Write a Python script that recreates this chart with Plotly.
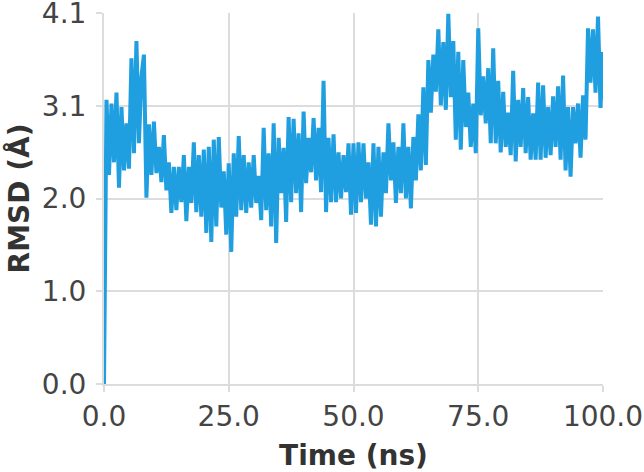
import plotly.graph_objects as go

# RMSD trace, one value every 0.5 ns from 0 to 100 ns
step_ns = 0.5
rmsd = [
    0.00, 3.14, 2.31, 3.10, 2.45, 3.22, 2.17, 3.06, 2.36, 2.88,
    2.38, 3.60, 2.55, 3.79, 2.66, 3.40, 3.64, 2.06, 2.87, 2.31,
    2.90, 2.33, 2.62, 2.23, 2.75, 2.14, 2.45, 1.89, 2.40, 1.92,
    2.40, 2.01, 2.53, 1.80, 2.40, 2.00, 2.67, 1.90, 2.53, 1.85,
    2.59, 1.67, 2.62, 1.57, 2.70, 1.74, 2.73, 1.95, 2.35, 1.65,
    2.44, 1.46, 2.55, 1.85, 2.74, 1.92, 2.53, 1.89, 2.45, 1.95,
    2.53, 2.00, 2.30, 1.81, 2.83, 1.92, 2.55, 1.74, 2.88, 1.56,
    2.72, 2.11, 2.61, 1.79, 2.95, 2.01, 2.93, 2.11, 2.77, 1.90,
    3.01, 2.22, 2.72, 2.34, 2.94, 2.25, 2.83, 2.12, 3.35, 1.90,
    2.72, 2.01, 2.76, 2.01, 2.56, 2.05, 2.53, 2.12, 2.66, 1.87,
    2.66, 1.89, 2.67, 2.01, 2.66, 2.05, 2.45, 1.76, 2.66, 1.74,
    2.62, 1.85, 2.56, 2.11, 2.88, 2.25, 2.67, 2.00, 2.62, 2.11,
    2.88, 2.05, 2.62, 1.94, 2.73, 2.25, 2.98, 2.36, 3.28, 2.42,
    3.58, 3.00, 3.64, 3.23, 3.92, 3.08, 3.78, 3.03, 4.09, 3.17,
    3.79, 2.70, 3.67, 2.59, 3.58, 2.84, 3.22, 2.62, 3.10, 2.55,
    3.93, 2.97, 3.40, 2.88, 3.49, 2.66, 3.71, 2.66, 3.35, 2.56,
    3.23, 2.62, 3.00, 2.53, 3.46, 2.46, 3.14, 2.62, 3.27, 2.55,
    3.17, 2.48, 2.99, 2.48, 3.33, 2.48, 3.30, 2.50, 3.06, 2.53,
    3.18, 2.62, 3.29, 2.48, 3.41, 2.36, 3.06, 2.29, 3.06, 2.66,
    3.10, 2.50, 3.19, 2.70, 3.93, 3.33, 3.92, 3.22, 4.06, 3.05,
    3.67,
]
time_ns = [i * step_ns for i in range(len(rmsd))]

x_ticks = [0, 25, 50, 75, 100]
x_tick_text = ["0.0", "25.0", "50.0", "75.0", "100.0"]
y_ticks = [0, 1.025, 2.05, 3.075, 4.1]
y_tick_text = ["0.0", "1.0", "2.0", "3.1", "4.1"]

grid = "#dcdcdc"
font = "DejaVu Sans"

fig = go.Figure(
    go.Scatter(
        x=time_ns, y=rmsd, mode="lines",
        line=dict(color="#209fe0", width=4),
        hoverinfo="skip", showlegend=False,
    )
)

axis_common = dict(
    showgrid=True, gridcolor=grid, gridwidth=2,
    showline=True, linecolor=grid, linewidth=2,
    ticks="outside", ticklen=6, tickwidth=2, tickcolor=grid,
    zeroline=False, ticklabeloverflow="allow", automargin=False,
    tickfont=dict(family=font, size=28, color="#444444"),
)

fig.update_layout(
    width=644, height=472,
    margin=dict(l=104, r=41, t=13, b=88),
    paper_bgcolor="white", plot_bgcolor="white",
    xaxis=dict(
        range=[0, 100], tickvals=x_ticks, ticktext=x_tick_text,
        title=dict(text="<b>Time (ns)</b>", standoff=17,
                   font=dict(family=font, size=28, color="#333333")),
        **axis_common,
    ),
    yaxis=dict(
        range=[0, 4.1], tickvals=y_ticks, ticktext=y_tick_text,
        ticklabelstandoff=4,
        title=dict(text="<b>RMSD (Å)</b>", standoff=4,
                   font=dict(family=font, size=28, color="#333333")),
        **axis_common,
    ),
)

# page body has an 8px default margin; drop it so the figure sits at 0,0
fig.write_html("out.html", config={"displayModeBar": False},
               post_script="document.body.style.margin = '0';")
